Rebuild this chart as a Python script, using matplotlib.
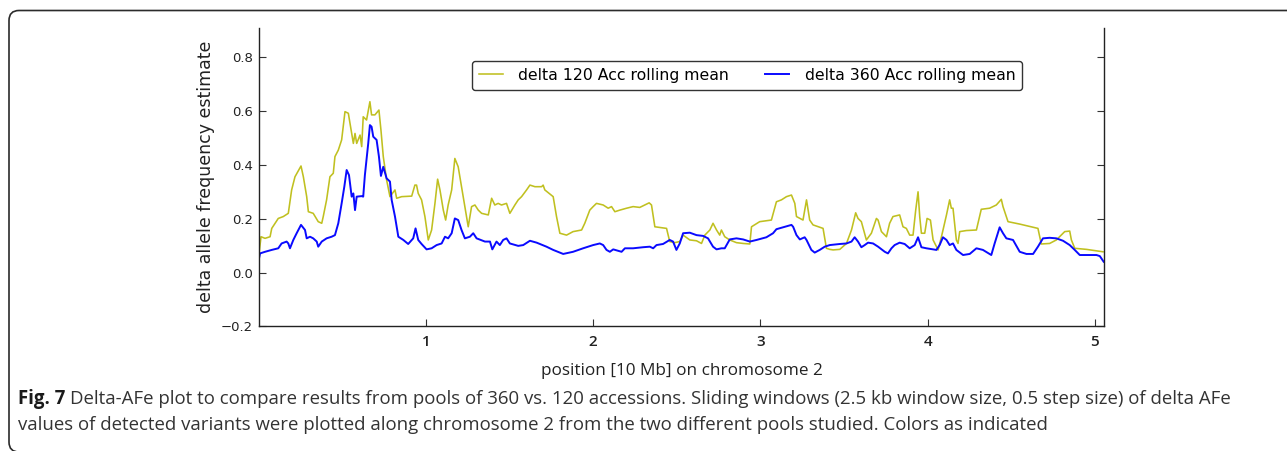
import matplotlib
matplotlib.use('Agg')
import matplotlib.pyplot as plt
from matplotlib.patches import FancyBboxPatch
from matplotlib.transforms import IdentityTransform

# ---------------- data (position in 10 Mb, delta AFe) ----------------
pts120 = [
    (0.002, 0.071), (0.014, 0.133), (0.038, 0.127), (0.068, 0.133), (0.078, 0.164),
    (0.117, 0.201), (0.147, 0.208), (0.177, 0.220), (0.197, 0.307), (0.217, 0.356),
    (0.253, 0.396), (0.267, 0.356), (0.287, 0.282), (0.297, 0.226), (0.326, 0.220),
    (0.356, 0.189), (0.377, 0.183), (0.386, 0.208), (0.406, 0.270), (0.426, 0.356),
    (0.446, 0.369), (0.456, 0.431), (0.476, 0.455), (0.496, 0.493), (0.516, 0.598),
    (0.536, 0.592), (0.546, 0.555), (0.566, 0.480), (0.576, 0.517), (0.586, 0.480),
    (0.606, 0.511), (0.616, 0.468), (0.625, 0.579), (0.645, 0.567), (0.665, 0.635),
    (0.675, 0.586), (0.695, 0.586), (0.719, 0.604), (0.731, 0.530), (0.745, 0.431),
    (0.765, 0.344), (0.785, 0.282), (0.815, 0.307), (0.825, 0.276), (0.855, 0.282),
    (0.915, 0.284), (0.934, 0.325), (0.944, 0.325), (0.954, 0.294), (0.974, 0.270),
    (0.994, 0.208), (1.014, 0.121), (1.034, 0.158), (1.054, 0.257), (1.070, 0.347),
    (1.084, 0.307), (1.104, 0.232), (1.118, 0.195), (1.133, 0.251), (1.154, 0.307),
    (1.173, 0.424), (1.193, 0.393), (1.213, 0.319), (1.243, 0.208), (1.253, 0.170),
    (1.273, 0.245), (1.293, 0.251), (1.313, 0.232), (1.333, 0.220), (1.373, 0.214),
    (1.393, 0.276), (1.412, 0.251), (1.432, 0.257), (1.452, 0.251), (1.482, 0.257),
    (1.502, 0.220), (1.532, 0.251), (1.552, 0.270), (1.572, 0.282), (1.602, 0.307),
    (1.622, 0.325), (1.652, 0.319), (1.692, 0.319),
    (1.701, 0.325), (1.711, 0.307), (1.761, 0.282), (1.781, 0.208), (1.801, 0.146),
    (1.841, 0.139), (1.880, 0.152), (1.931, 0.158), (1.950, 0.183), (1.980, 0.232),
    (2.000, 0.245), (2.020, 0.257), (2.060, 0.251), (2.090, 0.239), (2.110, 0.245),
    (2.130, 0.226), (2.160, 0.232), (2.200, 0.239), (2.239, 0.245), (2.279, 0.242),
    (2.309, 0.251), (2.335, 0.259), (2.349, 0.251), (2.369, 0.170), (2.439, 0.164),
    (2.458, 0.115), (2.488, 0.111), (2.518, 0.115), (2.538, 0.139), (2.578, 0.121),
    (2.618, 0.118), (2.648, 0.108), (2.668, 0.139), (2.698, 0.158), (2.717, 0.183),
    (2.738, 0.158), (2.757, 0.139), (2.767, 0.158), (2.787, 0.133), (2.817, 0.121),
    (2.857, 0.111), (2.897, 0.108), (2.937, 0.106), (2.947, 0.170), (2.996, 0.189),
    (3.066, 0.195), (3.096, 0.263), (3.126, 0.270), (3.156, 0.282), (3.186, 0.288),
    (3.206, 0.257), (3.216, 0.208), (3.255, 0.195), (3.276, 0.270), (3.295, 0.195),
    (3.315, 0.177), (3.375, 0.164), (3.395, 0.090), (3.415, 0.086),
    (3.435, 0.084), (3.475, 0.086), (3.515, 0.108), (3.545, 0.158), (3.570, 0.222),
    (3.584, 0.201), (3.604, 0.189), (3.634, 0.121), (3.664, 0.146), (3.694, 0.201),
    (3.704, 0.195), (3.724, 0.152), (3.754, 0.133), (3.773, 0.183), (3.793, 0.208),
    (3.833, 0.214), (3.853, 0.170), (3.873, 0.164), (3.893, 0.139), (3.913, 0.139),
    (3.929, 0.232), (3.943, 0.300), (3.953, 0.208), (3.963, 0.146), (3.983, 0.146),
    (3.997, 0.201), (4.017, 0.195), (4.033, 0.121), (4.063, 0.084), (4.083, 0.133),
    (4.113, 0.214), (4.132, 0.270), (4.142, 0.239), (4.152, 0.239), (4.172, 0.121),
    (4.182, 0.108), (4.192, 0.152), (4.232, 0.156), (4.292, 0.158), (4.321, 0.235),
    (4.371, 0.239), (4.411, 0.251), (4.441, 0.272), (4.451, 0.245), (4.481, 0.189),
    (4.551, 0.180), (4.660, 0.164), (4.680, 0.106), (4.730, 0.108), (4.770, 0.121),
    (4.820, 0.152), (4.850, 0.154), (4.860, 0.121), (4.880, 0.090), (4.950, 0.086),
    (5.049, 0.077),
]

pts360 = [
    (0.002, 0.053), (0.008, 0.071), (0.038, 0.077), (0.078, 0.084), (0.117, 0.090),
    (0.137, 0.108), (0.167, 0.115), (0.177, 0.108), (0.187, 0.090), (0.207, 0.121),
    (0.227, 0.146), (0.253, 0.177), (0.277, 0.158), (0.287, 0.127), (0.307, 0.133),
    (0.326, 0.127), (0.347, 0.115), (0.356, 0.096), (0.377, 0.115), (0.406, 0.127),
    (0.436, 0.133), (0.456, 0.139), (0.476, 0.183), (0.496, 0.257), (0.512, 0.319),
    (0.526, 0.381), (0.540, 0.362), (0.556, 0.282), (0.566, 0.294), (0.576, 0.232),
    (0.586, 0.282), (0.616, 0.284), (0.625, 0.282), (0.635, 0.362), (0.655, 0.480),
    (0.665, 0.548), (0.675, 0.542), (0.685, 0.505), (0.705, 0.493), (0.719, 0.431),
    (0.731, 0.359), (0.745, 0.393), (0.765, 0.350), (0.785, 0.338), (0.795, 0.270),
    (0.815, 0.208), (0.835, 0.133), (0.865, 0.121), (0.894, 0.106), (0.924, 0.127),
    (0.938, 0.164), (0.954, 0.121), (0.974, 0.106), (1.004, 0.086), (1.034, 0.090),
    (1.064, 0.102), (1.094, 0.108), (1.114, 0.133), (1.133, 0.127), (1.154, 0.146),
    (1.173, 0.201), (1.193, 0.195), (1.213, 0.158), (1.233, 0.127), (1.263, 0.133),
    (1.283, 0.146), (1.303, 0.127), (1.353, 0.115), (1.383, 0.115), (1.397, 0.086),
    (1.422, 0.115), (1.442, 0.102), (1.462, 0.121), (1.482, 0.127), (1.502, 0.108),
    (1.552, 0.099), (1.582, 0.102), (1.622, 0.118), (1.662, 0.111),
    (1.721, 0.096), (1.761, 0.084), (1.821, 0.069), (1.880, 0.077), (1.940, 0.090),
    (2.000, 0.102), (2.040, 0.108), (2.060, 0.102), (2.080, 0.084), (2.100, 0.077),
    (2.120, 0.086), (2.170, 0.077), (2.190, 0.090), (2.239, 0.090), (2.299, 0.094),
    (2.339, 0.096), (2.359, 0.090), (2.379, 0.102), (2.418, 0.106), (2.458, 0.121),
    (2.478, 0.115), (2.498, 0.084), (2.518, 0.108), (2.538, 0.146), (2.578, 0.148),
    (2.618, 0.139), (2.658, 0.136), (2.687, 0.127), (2.717, 0.096), (2.738, 0.086),
    (2.767, 0.090), (2.787, 0.090), (2.817, 0.123), (2.857, 0.127), (2.897, 0.123),
    (2.937, 0.115), (2.977, 0.121), (3.036, 0.131), (3.076, 0.146), (3.096, 0.161),
    (3.136, 0.168), (3.186, 0.177), (3.196, 0.170), (3.216, 0.139), (3.236, 0.123),
    (3.265, 0.131), (3.276, 0.121), (3.305, 0.084), (3.325, 0.074), (3.355, 0.084),
    (3.385, 0.096), (3.415, 0.102),
    (3.475, 0.106), (3.515, 0.108), (3.545, 0.115), (3.564, 0.131), (3.584, 0.115),
    (3.604, 0.094), (3.624, 0.102), (3.644, 0.111), (3.674, 0.108), (3.704, 0.096),
    (3.744, 0.077), (3.763, 0.071), (3.784, 0.090), (3.803, 0.102), (3.833, 0.111),
    (3.863, 0.106), (3.893, 0.090), (3.923, 0.102), (3.943, 0.131), (3.963, 0.094),
    (3.993, 0.090), (4.033, 0.086), (4.053, 0.084), (4.072, 0.102), (4.092, 0.131),
    (4.113, 0.121), (4.132, 0.102), (4.152, 0.108), (4.172, 0.084), (4.212, 0.065),
    (4.252, 0.069), (4.292, 0.090), (4.331, 0.084), (4.381, 0.065), (4.401, 0.108),
    (4.431, 0.168), (4.451, 0.146), (4.471, 0.127), (4.511, 0.121), (4.551, 0.077),
    (4.591, 0.069), (4.631, 0.069), (4.660, 0.096), (4.690, 0.127), (4.730, 0.129),
    (4.770, 0.127), (4.810, 0.118), (4.850, 0.102), (4.880, 0.084), (4.910, 0.065),
    (4.950, 0.065), (5.010, 0.065), (5.030, 0.061), (5.053, 0.040),
]

series_labels = ['delta 120 Acc rolling mean', 'delta 360 Acc rolling mean']
xticks = [1, 2, 3, 4, 5]
yticks = [-0.2, 0.0, 0.2, 0.4, 0.6, 0.8]
ytick_labels = ['\u22120.2', '0.0', '0.2', '0.4', '0.6', '0.8']
xlabel = 'position [10 Mb] on chromosome 2'
ylabel = 'delta allele frequency estimate'
cap_bold = 'Fig. 7'
cap_line1 = ('Delta-AFe plot to compare results from pools of 360 vs. 120 accessions. '
             'Sliding windows (2.5 kb window size, 0.5 step size) of delta AFe')
cap_line2 = ('values of detected variants were plotted along chromosome 2 from the two '
             'different pools studied. Colors as indicated')

x120, y120 = zip(*pts120)
x360, y360 = zip(*pts360)

# ---------------- figure ----------------
W, H = 1287, 451
fig = plt.figure(figsize=(W / 100, H / 100), dpi=100)
fig.patch.set_facecolor('white')

# rounded outer frame (pixel coords, origin bottom-left)
frame = FancyBboxPatch((9, H - 452), 1400, 452 - 10.5,
                       boxstyle='round,pad=0,rounding_size=10',
                       transform=IdentityTransform(), fill=False,
                       edgecolor='#2b2b2b', linewidth=1.2, clip_on=False)
fig.patches.append(frame)

ax_l, ax_r, ax_t, ax_b = 258.7, 1104.5, 28.0, 326.3
ax = fig.add_axes([ax_l / W, 1 - ax_b / H, (ax_r - ax_l) / W, (ax_b - ax_t) / H])

ax.plot(x120, y120, color='#c0c020', lw=1.15, label=series_labels[0])
ax.plot(x360, y360, color='#0a0aff', lw=1.4, label=series_labels[1])

ax.set_xlim(0, 5.058)
ax.set_ylim(-0.2, 0.909)
ax.spines['top'].set_visible(False)
for s in ['left', 'right', 'bottom']:
    ax.spines[s].set_linewidth(1.0)
    ax.spines[s].set_color('#222222')

ax.set_xticks(xticks)
ax.set_xticklabels([str(v) for v in xticks], fontfamily='Open Sans',
                   fontweight='semibold', fontsize=11, color='#222222')
ax.set_yticks(yticks)
ax.set_yticklabels(ytick_labels, fontfamily='DejaVu Sans', fontsize=9.5,
                   color='#222222')
ax.tick_params(axis='both', direction='in', length=5, width=0.8, color='#333333')
ax.tick_params(axis='y', left=True, right=True, pad=4)
ax.tick_params(axis='x', top=False, bottom=True, pad=6)

ax.set_xlabel(xlabel, fontfamily='Open Sans', fontsize=12.3, color='#222222')
ax.xaxis.set_label_coords(0.5, (ax_b - 371) / (ax_b - ax_t))
ax.xaxis.label.set_va('center')
ax.set_ylabel(ylabel, fontfamily='DejaVu Sans', fontsize=12.5, color='#222222')
ax.yaxis.set_label_coords((206 - ax_l) / (ax_r - ax_l), 0.5)
ax.yaxis.label.set_va('center')

leg = ax.legend(loc='center', bbox_to_anchor=(747.3 / W, 1 - 75.3 / H),
                bbox_transform=fig.transFigure, ncol=2, fontsize=11.3,
                frameon=True, fancybox=True, edgecolor='#333333',
                framealpha=1, handlelength=1.5, handletextpad=1.0,
                columnspacing=2.3, borderpad=0.45)
leg.get_frame().set_linewidth(1.0)

# ---------------- caption ----------------
cap_fs = 13.45
cap_x = 18 / W
y1 = 1 - 404 / H
y2 = 1 - 430 / H
tb = fig.text(cap_x, y1, cap_bold, fontfamily='Open Sans', fontweight='bold',
              fontsize=cap_fs, color='#1a1a1a', va='baseline', ha='left')
fig.canvas.draw()
bb = tb.get_window_extent(renderer=fig.canvas.get_renderer())
fig.text((bb.x1 + 5) / W, y1, cap_line1, fontfamily='Open Sans', fontsize=cap_fs,
         color='#333333', va='baseline', ha='left')
fig.text(cap_x, y2, cap_line2, fontfamily='Open Sans', fontsize=cap_fs,
         color='#333333', va='baseline', ha='left')

fig.savefig('out.png', dpi=100, facecolor='white')
